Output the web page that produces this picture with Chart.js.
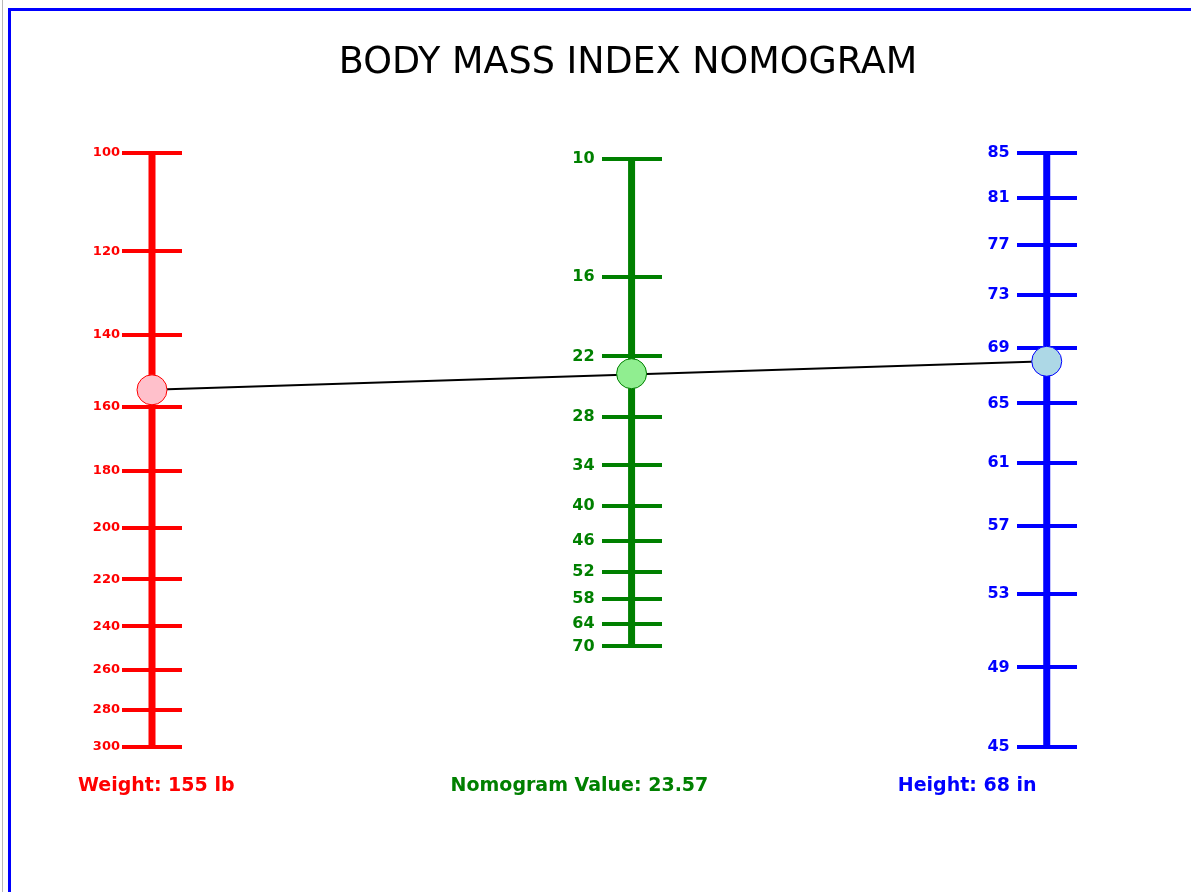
<!DOCTYPE html>
<html>
<head>
<meta charset="utf-8">
<title>Body Mass Index Nomogram</title>
<script src="https://cdn.jsdelivr.net/npm/chart.js@4.4.1/dist/chart.umd.min.js"></script>
<style>
  html, body { margin: 0; padding: 0; background: #fff; overflow: hidden; }
  .edge { position: absolute; left: 2px; top: 0; width: 1px; height: 892px; background: #b8b8b8; }
  .frame { position: absolute; left: 8px; top: 8px; width: 1300px; height: 1000px; border: 3px solid #0000ff; }
  #wrap { position: absolute; left: 11px; top: 11px; }
</style>
</head>
<body>
<div class="edge"></div>
<div class="frame"></div>
<div id="wrap"><canvas id="nomogram" width="1234" height="870"></canvas></div>
<script>
// tick values on the three scales
const weightTicks = [100, 120, 140, 160, 180, 200, 220, 240, 260, 280, 300];
const bmiTicks = [10, 16, 22, 28, 34, 40, 46, 52, 58, 64, 70];
const heightTicks = [85, 81, 77, 73, 69, 65, 61, 57, 53, 49, 45];

// current reading
const weightValue = [155];
const heightValue = [68];
const bmiValue = [23.57];

// where each scale sits along the (hidden) x axis
const X_MAX = 1.064;
const AXIS_X = { weight: 0, bmi: 0.536, height: 1 };
const PX = X_MAX / 952; // x units per pixel of the chart area

const RED = '#ff0000';
const GREEN = '#008000';
const BLUE = '#0000ff';
const FONT = 'DejaVu Sans';

function setTicks(values) {
  return scale => { scale.ticks = values.map(v => ({ value: v })); };
}

// one log axis per job: 'labels' draws the numbers, 'marks' draws the cross ticks
function logAxis(kind, xPos, color, values, range, font) {
  const labels = kind === 'labels';
  return {
    type: 'logarithmic',
    position: { x: xPos },
    min: range.min,
    max: range.max,
    reverse: !!range.reverse,
    bounds: 'data',
    afterBuildTicks: setTicks(values),
    afterFit: s => { s.width = 0; },
    border: { display: false },
    grid: {
      display: !labels,
      drawOnChartArea: false,
      drawTicks: true,
      tickLength: 60,
      lineWidth: 4,
      tickWidth: 4,
      color: color,
      tickColor: color
    },
    ticks: {
      display: labels,
      color: color,
      font: { family: FONT, size: font, weight: 'bold' },
      padding: 0,
      autoSkip: false,
      callback: v => String(v)
    }
  };
}

const weightRange = { min: weightTicks[0], max: weightTicks[weightTicks.length - 1], reverse: true };
const bmiRange = { min: 9.76, max: 104.6, reverse: true };
const heightRange = { min: heightTicks[heightTicks.length - 1], max: heightTicks[0] };

function spine(axisId, x, lo, hi, color) {
  return {
    yAxisID: axisId,
    data: [{ x: x, y: lo }, { x: x, y: hi }],
    showLine: true,
    borderColor: color,
    borderWidth: 7,
    pointRadius: 0,
    clip: false,
    order: 2
  };
}

function marker(axisId, x, value, fill, color) {
  return {
    yAxisID: axisId,
    data: [{ x: x, y: value }],
    backgroundColor: fill,
    borderColor: color,
    borderWidth: 1,
    pointRadius: 15,
    clip: false,
    order: 1
  };
}

const readout = {
  id: 'readout',
  beforeDatasetsDraw(chart) {
    const { ctx, scales } = chart;
    ctx.save();
    ctx.strokeStyle = '#000';
    ctx.lineWidth = 2;
    ctx.beginPath();
    ctx.moveTo(scales.x.getPixelForValue(AXIS_X.weight), scales.yW.getPixelForValue(weightValue[0]));
    ctx.lineTo(scales.x.getPixelForValue(AXIS_X.height), scales.yH.getPixelForValue(heightValue[0]));
    ctx.stroke();
    ctx.restore();
  },
  afterDraw(chart) {
    const { ctx, scales, chartArea } = chart;
    const y = chartArea.bottom + 39;
    const items = [
      ['Weight: ' + weightValue[0] + ' lb', AXIS_X.weight, -74, RED],
      ['Nomogram Value: ' + bmiValue[0].toFixed(2), AXIS_X.bmi, -181, GREEN],
      ['Height: ' + heightValue[0] + ' in', AXIS_X.height, -149, BLUE]
    ];
    ctx.save();
    ctx.font = 'bold 19px "' + FONT + '"';
    ctx.textAlign = 'left';
    ctx.textBaseline = 'middle';
    items.forEach(([text, xv, off, color]) => {
      ctx.fillStyle = color;
      ctx.fillText(text, scales.x.getPixelForValue(xv) + off, y);
    });
    ctx.restore();
  }
};

new Chart(document.getElementById('nomogram'), {
  type: 'scatter',
  data: {
    datasets: [
      marker('yW', AXIS_X.weight, weightValue[0], '#ffc0cb', RED),
      marker('yB', AXIS_X.bmi, bmiValue[0], '#90ee90', GREEN),
      marker('yH', AXIS_X.height, heightValue[0], '#add8e6', BLUE),
      spine('yW', AXIS_X.weight, weightTicks[0], weightTicks[weightTicks.length - 1], RED),
      spine('yB', AXIS_X.bmi, bmiTicks[0], bmiTicks[bmiTicks.length - 1], GREEN),
      spine('yH', AXIS_X.height, heightTicks[0], heightTicks[heightTicks.length - 1], BLUE)
    ]
  },
  options: {
    responsive: false,
    animation: false,
    events: [],
    layout: { padding: { top: 31, left: 141, right: 141, bottom: 134 } },
    plugins: {
      legend: { display: false },
      tooltip: { enabled: false },
      title: {
        display: true,
        text: 'BODY MASS INDEX NOMOGRAM',
        color: '#000',
        font: { family: FONT, size: 36.5, weight: 'normal', lineHeight: 1.2 },
        padding: { top: 0, bottom: 67 }
      }
    },
    scales: {
      x: { type: 'linear', min: 0, max: X_MAX, display: false },
      // labels sit left of the spine, tick marks are 60px centred on it
      yW: logAxis('labels', AXIS_X.weight - 32 * PX, RED, weightTicks, weightRange, 13),
      yWt: logAxis('marks', AXIS_X.weight + 30 * PX, RED, weightTicks, weightRange, 13),
      yB: logAxis('labels', AXIS_X.bmi - 37 * PX, GREEN, bmiTicks, bmiRange, 16),
      yBt: logAxis('marks', AXIS_X.bmi + 30 * PX, GREEN, bmiTicks, bmiRange, 16),
      yH: logAxis('labels', AXIS_X.height - 37 * PX, BLUE, heightTicks, heightRange, 16),
      yHt: logAxis('marks', AXIS_X.height + 30 * PX, BLUE, heightTicks, heightRange, 16)
    }
  },
  plugins: [readout]
});
</script>
</body>
</html>
